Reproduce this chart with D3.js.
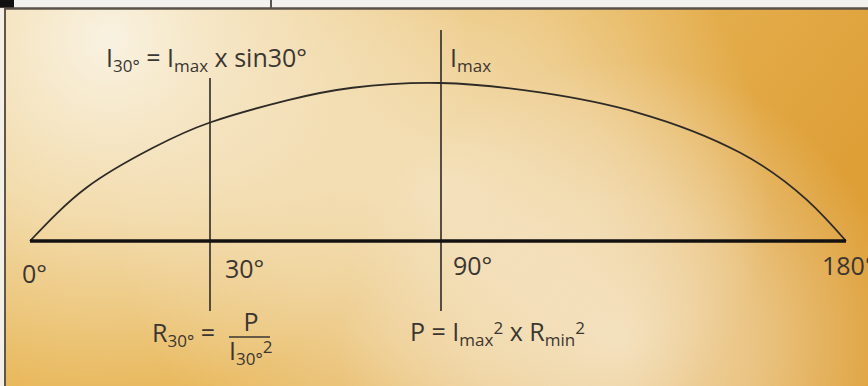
<!DOCTYPE html>
<html lang="en">
<head>
  <meta charset="UTF-8">
  <title>Sine curve</title>
  <script src="https://d3js.org/d3.v7.min.js"></script>
  <style>
    body {
      margin: 0;
      overflow: hidden;
      background: #fff;
    }
    svg {
      display: block;
    }
    .lbl {
      font-family: "Open Sans", sans-serif;
      font-size: 25px;
      fill: #3b3631;
    }
    .mark {
      stroke: #2e2a26;
      stroke-width: 1.6;
    }
    .axis-line {
      stroke: #141210;
      stroke-width: 3.5;
    }
    .curve {
      fill: none;
      stroke: #2e2a26;
      stroke-width: 1.8;
    }
  </style>
</head>
<body>
<svg width="868" height="386"></svg>
<script>
const svg = d3.select("svg");
const width = 868;
const height = 386;

// === Data ===
const tickAngles = [0, 30, 90, 180];
const tickLabels = ["0°", "30°", "90°", "180°"];
// curve: [angle in degrees, fraction of Imax]
const curveAngles = [0, 9.5, 20.5, 30, 50, 67, 90, 112, 134, 156.4, 171.3, 180];
const curveValues = [0, 0.34, 0.59, 0.75, 0.89, 0.97, 1.0, 0.94, 0.81, 0.56, 0.26, 0];
const markerAngles = [30, 90];

// === Scales (drawing is schematic: 30° sits further right) ===
const x = d3.scaleLinear().domain(tickAngles).range([30, 210, 441, 846]);
const y = d3.scaleLinear().domain([0, 1]).range([241, 83]);

// === Background ===
const defs = svg.append("defs");
const base = defs.append("linearGradient").attr("id", "base")
  .attr("x1", 0).attr("y1", 0).attr("x2", 1).attr("y2", 0.35);
base.append("stop").attr("offset", "0%").attr("stop-color", "#e9bb5e");
base.append("stop").attr("offset", "55%").attr("stop-color", "#e8b75a");
base.append("stop").attr("offset", "100%").attr("stop-color", "#de9f37");

function glow(id, cx, cy, r, col, op) {
  const g = defs.append("radialGradient").attr("id", id)
    .attr("gradientUnits", "userSpaceOnUse")
    .attr("cx", cx).attr("cy", cy).attr("r", r);
  g.append("stop").attr("offset", "0%").attr("stop-color", col).attr("stop-opacity", op);
  g.append("stop").attr("offset", "50%").attr("stop-color", col).attr("stop-opacity", op * 0.6);
  g.append("stop").attr("offset", "100%").attr("stop-color", col).attr("stop-opacity", 0);
}
glow("g1", 110, 40, 360, "#f9f2e1", 1);
glow("g2", 440, 190, 330, "#f6ead0", 0.8);
glow("g3", 620, 340, 280, "#f8efdc", 0.75);

const bg = svg.append("g");
bg.append("rect").attr("x", 0).attr("y", 8).attr("width", width).attr("height", height - 8).attr("fill", "url(#base)");
["g1", "g2", "g3"].forEach(id => {
  bg.append("rect").attr("x", 0).attr("y", 8).attr("width", width).attr("height", height - 8).attr("fill", `url(#${id})`);
});

// top strip and frame
bg.append("rect").attr("x", 0).attr("y", 0).attr("width", width).attr("height", 8).attr("fill", "#f2f1ee");
bg.append("rect").attr("x", 0).attr("y", 0).attr("width", 14).attr("height", 8).attr("fill", "#111");
bg.append("line").attr("x1", 271).attr("x2", 271).attr("y1", 0).attr("y2", 8)
  .attr("stroke", "#555").attr("stroke-width", 2);
bg.append("line").attr("x1", 0).attr("x2", width).attr("y1", 8.5).attr("y2", 8.5)
  .attr("stroke", "#5a5149").attr("stroke-width", 2.5);
bg.append("rect").attr("x", 0).attr("y", 8).attr("width", 4).attr("height", height - 8).attr("fill", "#f4f0e6");
bg.append("line").attr("x1", 5).attr("x2", 5).attr("y1", 8).attr("y2", height)
  .attr("stroke", "#5e5649").attr("stroke-width", 2);

// === Curve ===
const pts = curveAngles.map((a, i) => [x(a), y(curveValues[i])]);
svg.append("path")
  .attr("class", "curve")
  .attr("d", d3.line().curve(d3.curveNatural)(pts));

// === Marker lines ===
const markerTop = { 30: 78, 90: 30 };
svg.selectAll("line.mark")
  .data(markerAngles)
  .join("line")
  .attr("class", "mark")
  .attr("x1", d => x(d)).attr("x2", d => x(d))
  .attr("y1", d => markerTop[d])
  .attr("y2", 311);

// === Axis ===
svg.append("line")
  .attr("class", "axis-line")
  .attr("x1", x(0)).attr("x2", x(180))
  .attr("y1", y(0)).attr("y2", y(0));

const tickDx = [-8, 15, 12, -24];
svg.selectAll("text.tick")
  .data(tickAngles)
  .join("text")
  .attr("class", "lbl tick")
  .attr("x", (d, i) => x(d) + tickDx[i])
  .attr("y", (d, i) => i === 0 ? 283 : (i === 1 ? 278 : 275))
  .text((d, i) => tickLabels[i]);

// === Formula labels ===
// parts: [text, kind] kind: "" normal, "sub", "sup"
function rich(px, py, parts) {
  const t = svg.append("text").attr("class", "lbl").attr("x", px).attr("y", py);
  let shift = 0;
  parts.forEach(([s, kind]) => {
    const target = kind === "sub" ? 5 : kind === "sup" ? -7 : 0;
    t.append("tspan")
      .attr("dy", target - shift)
      .attr("font-size", kind ? 17 : 25)
      .text(s);
    shift = target;
  });
  return t;
}

rich(106, 67, [["I", ""], ["30°", "sub"], [" = I", ""], ["max", "sub"], [" x sin30°", ""]]);
rich(450, 67, [["I", ""], ["max", "sub"]]);
rich(152, 342, [["R", ""], ["30°", "sub"], [" =", ""]]);
rich(410, 341, [["P = I", ""], ["max", "sub"], ["2", "sup"], [" x R", ""], ["min", "sub"], ["2", "sup"]]);

// fraction P / I30°²
svg.append("text").attr("class", "lbl").attr("x", 251).attr("y", 331)
  .attr("text-anchor", "middle").text("P");
svg.append("line").attr("x1", 229).attr("x2", 270).attr("y1", 337).attr("y2", 337)
  .attr("stroke", "#3b3631").attr("stroke-width", 1.6);
rich(229, 360, [["I", ""], ["30°", "sub"], ["2", "sup"]]);
</script>
</body>
</html>
